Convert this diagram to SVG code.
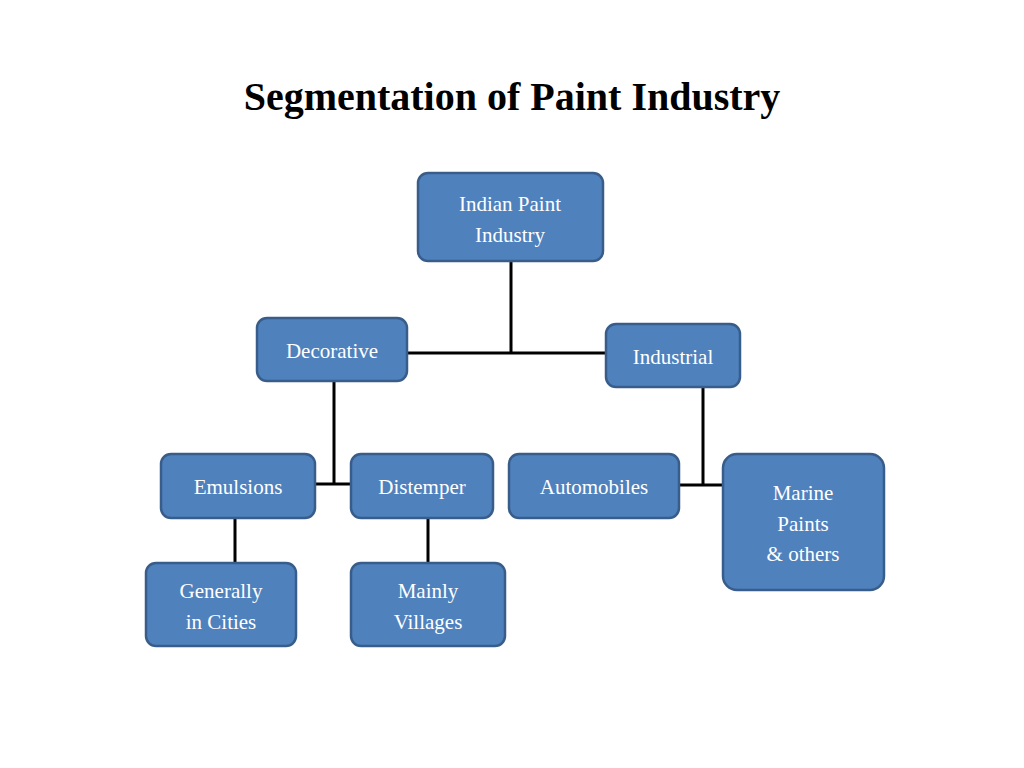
<svg xmlns="http://www.w3.org/2000/svg" width="1024" height="768" viewBox="0 0 1024 768">
<style>
.n{fill:#4F81BD;stroke:#385D8A;stroke-width:2.5}
.t{font-family:"Liberation Serif",serif;font-size:21px;fill:#fff;text-anchor:middle}
.c{stroke:#000;stroke-width:3;fill:none}
</style>
<rect width="1024" height="768" fill="#fff"/>
<text x="512" y="110" font-family="Liberation Serif,serif" font-size="40" font-weight="bold" text-anchor="middle">Segmentation of Paint Industry</text>
<g id="connectors">
<path class="c" d="M511 261V353M407 353H606M334 381V484M315 484H351M703 387V485M679 485H723M235 518V563M428 518V563"/>
</g>
<g id="root"><rect class="n" x="418" y="173" width="185" height="88" rx="10"/><text class="t" x="510" y="211">Indian Paint</text><text class="t" x="510" y="242">Industry</text></g>
<g id="decorative"><rect class="n" x="257" y="318" width="150" height="63" rx="10"/><text class="t" x="332" y="358">Decorative</text></g>
<g id="industrial"><rect class="n" x="606" y="324" width="134" height="63" rx="10"/><text class="t" x="673" y="364">Industrial</text></g>
<g id="emulsions"><rect class="n" x="161" y="454" width="154" height="64" rx="10"/><text class="t" x="238" y="494">Emulsions</text></g>
<g id="distemper"><rect class="n" x="351" y="454" width="142" height="64" rx="10"/><text class="t" x="422" y="494">Distemper</text></g>
<g id="automobiles"><rect class="n" x="509" y="454" width="170" height="64" rx="10"/><text class="t" x="594" y="494">Automobiles</text></g>
<g id="marine"><rect class="n" x="723" y="454" width="161" height="136" rx="14"/><text class="t" x="803" y="500">Marine</text><text class="t" x="803" y="531">Paints</text><text class="t" x="803" y="561">&amp; others</text></g>
<g id="generally"><rect class="n" x="146" y="563" width="150" height="83" rx="10"/><text class="t" x="221" y="598">Generally</text><text class="t" x="221" y="629">in Cities</text></g>
<g id="mainly"><rect class="n" x="351" y="563" width="154" height="83" rx="10"/><text class="t" x="428" y="598">Mainly</text><text class="t" x="428" y="629">Villages</text></g>
</svg>
